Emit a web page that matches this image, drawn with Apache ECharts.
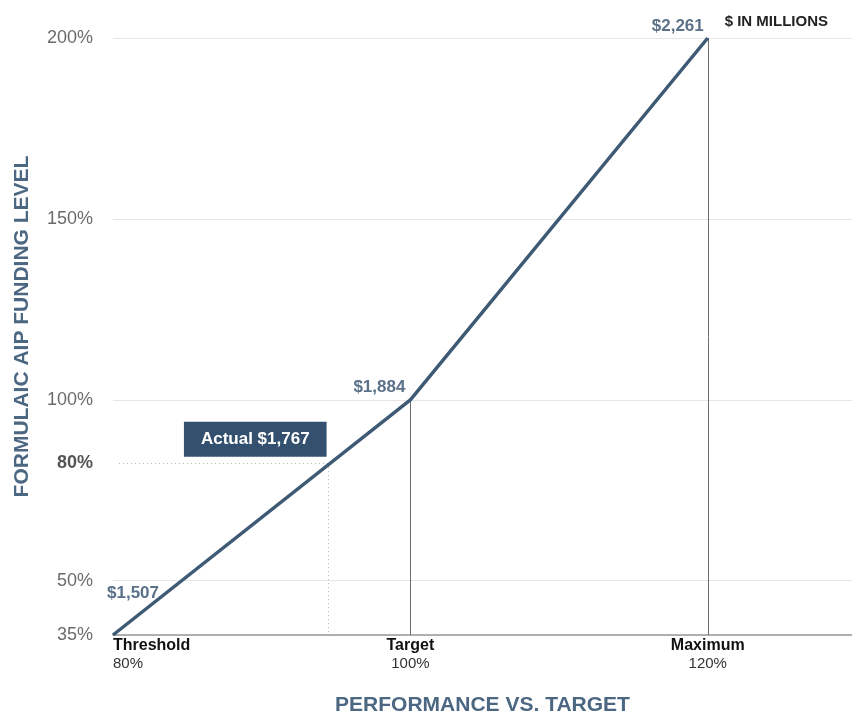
<!DOCTYPE html>
<html><head><meta charset="utf-8">
<script src="https://cdn.jsdelivr.net/npm/echarts@6/dist/echarts.min.js"></script>
<style>html,body{margin:0;padding:0;background:#fff}#c{width:852px;height:717px}</style>
</head><body><div id="c"></div>
<script>
// ---- data ----
const perfPct = [80, 100, 120];
const fundingPct = [35, 100, 200];
const payoutLabels = ['$1,507', '$1,884', '$2,261'];
const xTickNames = ['Threshold', 'Target', 'Maximum'];
const yTickValues = [35, 50, 100, 150, 200];
const actualPerf = 94.5;
const actualFunding = 82.5;
const actualFundingText = '80%';
const actualLabel = 'Actual $1,767';
const unitNote = '$ IN MILLIONS';

const FONT = '"Liberation Sans", Arial, sans-serif';
const lineColor = '#3e5a75';
const labelColor = '#5b7189';

const labelOffsets = [
  {position: 'top', distance: 5, offset: [20, -28]},
  {position: 'left', distance: 5, offset: [0, -13]},
  {position: 'left', distance: 4, offset: [0, -12]}
];

const mainData = perfPct.map((x, i) => ({
  value: [x, fundingPct[i]],
  label: Object.assign({show: true, formatter: payoutLabels[i]}, labelOffsets[i])
}));

const yLabelValues = yTickValues.concat([actualFunding]).sort((a, b) => a - b);

const option = {
  animation: false,
  textStyle: {fontFamily: FONT},
  title: {
    text: unitNote, right: 19, top: 9,
    textStyle: {fontFamily: FONT, fontSize: 15, fontWeight: 'bold', color: '#222'}
  },
  grid: {left: 113, right: 0, top: 38, bottom: 82, outerBoundsMode: 'none', containLabel: false},
  xAxis: {
    type: 'value', min: 80, max: 129.7,
    name: 'PERFORMANCE VS. TARGET', nameLocation: 'middle', nameGap: 60,
    nameTextStyle: {fontFamily: FONT, fontSize: 21, fontWeight: 'bold', color: '#4b6782'},
    axisLine: {show: true, lineStyle: {color: '#999', width: 1.5}},
    axisTick: {show: false},
    splitLine: {show: false},
    axisLabel: {
      customValues: perfPct,
      alignMinLabel: 'left',
      margin: 2,
      formatter: v => {
        const i = perfPct.indexOf(v);
        return i < 0 ? '' : '{n|' + xTickNames[i] + '}\n{p|' + v + '%}';
      },
      rich: {
        n: {fontFamily: FONT, fontSize: 16, fontWeight: 'bold', color: '#111', lineHeight: 18},
        p: {fontFamily: FONT, fontSize: 15, color: '#333', lineHeight: 18}
      }
    }
  },
  yAxis: {
    type: 'value', min: 35, max: 200,
    name: 'FORMULAIC AIP FUNDING LEVEL', nameLocation: 'middle', nameGap: 80, nameRotate: 90,
    nameTextStyle: {fontFamily: FONT, fontSize: 21, fontWeight: 'bold', color: '#4b6782', padding: [0, 0, 0, 20]},
    axisLine: {show: false},
    axisTick: {show: false, customValues: yTickValues},
    splitLine: {show: true, lineStyle: {color: '#e6e6e6', width: 1}},
    axisLabel: {
      customValues: yLabelValues,
      margin: 20,
      formatter: v => v === actualFunding ? '{b|' + actualFundingText + '}' : '{r|' + v + '%}',
      rich: {
        r: {fontFamily: FONT, fontSize: 18, color: '#6b6b6b'},
        b: {fontFamily: FONT, fontSize: 18, fontWeight: 'bold', color: '#555'}
      }
    }
  },
  series: [
    {
      type: 'line', data: mainData, symbol: 'circle', symbolSize: 0.01, showSymbol: true, z: 5,
      itemStyle: {color: lineColor, opacity: 1},
      lineStyle: {color: lineColor, width: 3.5},
      label: {show: true, fontFamily: FONT, fontSize: 17, fontWeight: 'bold', color: labelColor},
      markLine: {
        silent: true, symbol: 'none', label: {show: false},
        lineStyle: {color: '#6d6d6d', width: 1, type: 'solid'},
        data: [
          [{coord: [perfPct[1], fundingPct[0]]}, {coord: [perfPct[1], fundingPct[1]]}],
          [{coord: [perfPct[2], fundingPct[0]]}, {coord: [perfPct[2], fundingPct[2]]}]
        ]
      }
    },
    {
      type: 'scatter', symbolSize: 0.01, z: 6,
      itemStyle: {opacity: 1, color: lineColor},
      data: [[actualPerf, actualFunding]],
      label: {
        show: true, position: 'left', distance: 2, offset: [0, -24],
        formatter: actualLabel,
        backgroundColor: '#33506e', color: '#fff',
        fontFamily: FONT, fontSize: 17, fontWeight: 'bold',
        padding: [9, 17, 9, 17]
      },
      markLine: {
        silent: true, symbol: 'none', label: {show: false},
        lineStyle: {color: '#b5b5b5', width: 1, type: [1, 3]},
        data: [
          [{coord: [80.4, actualFunding]}, {coord: [actualPerf, actualFunding]}],
          [{coord: [actualPerf, actualFunding]}, {coord: [actualPerf, 35]}]
        ]
      }
    }
  ]
};

const chart = echarts.init(document.getElementById('c'), null, {renderer: 'canvas'});
chart.setOption(option);
</script></body></html>
